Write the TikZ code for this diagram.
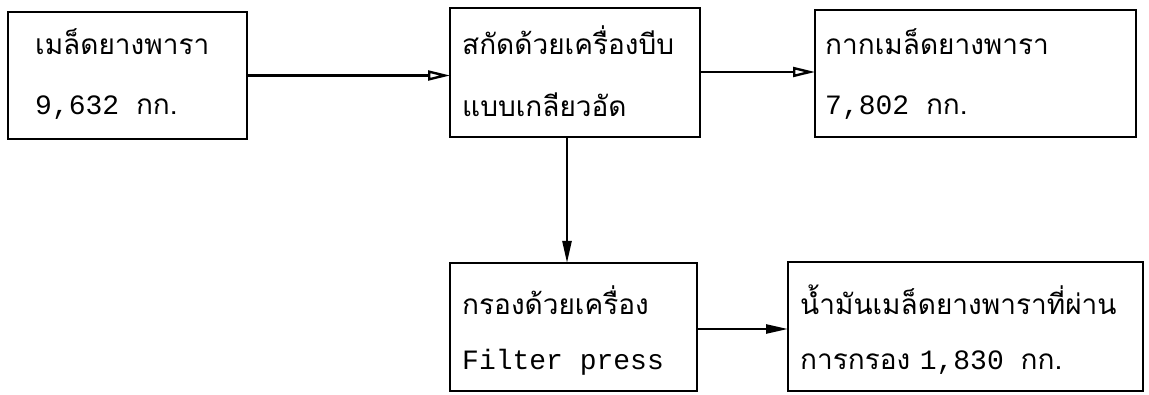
\documentclass[tikz,border=0pt]{standalone}
\usepackage{fontspec}
\usetikzlibrary{arrows.meta}
\setmainfont{Liberation Mono}
\newfontfamily\thai[Script=Thai]{Loma}
\newfontfamily\mono{Liberation Mono}
\tikzset{
  box/.style={draw, line width=2.6pt, inner sep=0pt, outer sep=0pt, rectangle},
  txt/.style={anchor=base west, inner sep=0pt, font=\fontsize{28}{30}\selectfont},
  flow/.style={line width=2.4pt, -{Triangle[length=22pt,width=10pt,open]}},
  flowf/.style={line width=2.4pt, -{Triangle[length=22pt,width=9pt]}}
}
\begin{document}
\begin{tikzpicture}[x=1pt,y=-1pt]
\useasboundingbox (0,0) rectangle (1149,395);
\node[box, minimum width=239pt, minimum height=127pt] (b1) at (127.5,75.5) {};
\node[box, minimum width=250pt, minimum height=129pt] (b2) at (575,72.5) {};
\node[box, minimum width=321pt, minimum height=127pt] (b3) at (975.5,73.5) {};
\node[box, minimum width=247pt, minimum height=128pt] (b4) at (573.5,327) {};
\node[box, minimum width=355pt, minimum height=129pt] (b5) at (965.5,326.5) {};

\node[txt] (t1a) at (35,55) {\thai เมล็ดยางพารา};
\node[txt] (t1b) at (35,115) {\mono 9,632 \thai กก.};
\node[txt] (t2a) at (462,55) {\thai สกัดด้วยเครื่องบีบ};
\node[txt] (t2b) at (462,117) {\thai แบบเกลียวอัด};
\node[txt] (t3a) at (825,55) {\thai กากเมล็ดยางพารา};
\node[txt] (t3b) at (825,115) {\mono 7,802 \thai กก.};
\node[txt] (t4a) at (462,315) {\thai กรองด้วยเครื่อง};
\node[txt] (t4b) at (462,370) {\mono Filter press};
\node[txt] (t5a) at (800,315) {\thai น้ำมันเมล็ดยางพาราที่ผ่าน};
\node[txt] (t5b) at (800,370) {\thai การกรอง \mono 1,830 \thai กก.};

\draw[flow] (b1.east) -- (b1.east -| b2.west);
\draw[flow] (b2.east |- 0,72) -- (b3.west |- 0,72);
\draw[flowf] ([xshift=-8pt]b2.south) -- ([xshift=-8pt]b2.south |- b4.north);
\draw[flowf] (b4.east |- 0,329) -- (b5.west |- 0,329);
\end{tikzpicture}
\end{document}
